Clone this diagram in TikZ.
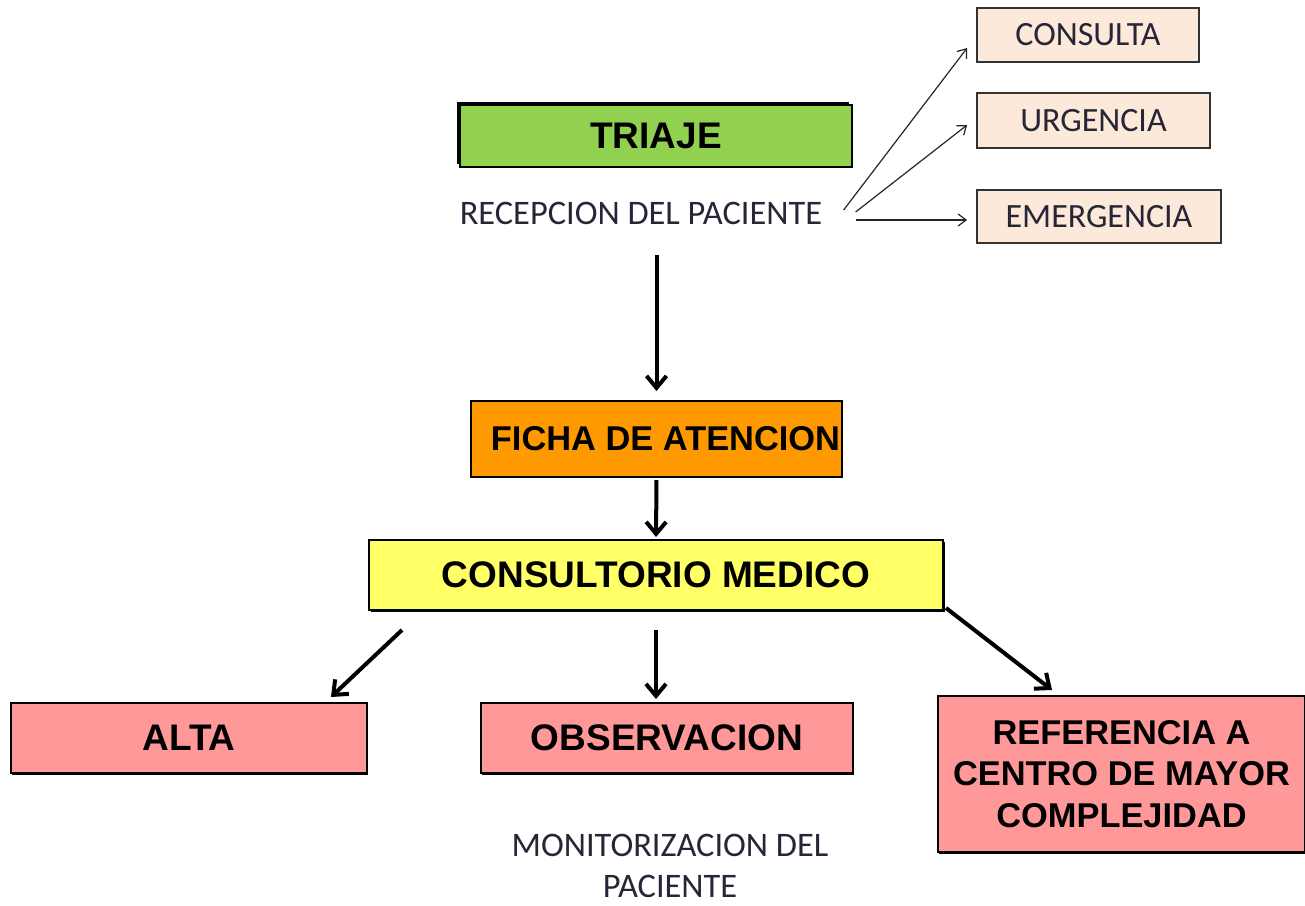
\documentclass[tikz,border=0pt]{standalone}
\usepackage{fontspec}
\setmainfont{Liberation Sans}
\newfontfamily\calibri{Carlito}
\usepackage{xcolor}
\usetikzlibrary{arrows.meta}
\usetikzlibrary{shadows}
\definecolor{triajegreen}{HTML}{92D050}
\definecolor{fichaorange}{HTML}{FF9900}
\definecolor{consyellow}{HTML}{FFFF66}
\definecolor{salida}{HTML}{FF9999}
\definecolor{peach}{HTML}{FDE9DA}
\definecolor{darktext}{HTML}{262638}

\begin{document}
\begin{tikzpicture}[x=0.5pt,y=-0.5pt,
    main box/.style={rectangle, draw=black, line width=1pt, inner sep=0pt, align=center,
        font=\fontsize{18.5}{20.75}\selectfont\bfseries},
    tipo box/.style={rectangle, draw=black!80, line width=0.9pt, fill=peach, inner sep=0pt,
        text=darktext, font=\calibri\fontsize{17}{20}\selectfont},
    plain text/.style={inner sep=0pt, text=darktext, align=center,
        font=\calibri\fontsize{17.2}{20.5}\selectfont},
    big arrow/.style={-{Straight Barb[length=6pt,width=10pt]}, line width=2pt},
    thin arrow/.style={-{Straight Barb[length=4pt,width=6pt]}, line width=0.6pt, draw=black!85}]
    \useasboundingbox (0,0) rectangle (1305,905);
    % Nodes
    \node [main box, fill=triajegreen, minimum width=196pt, minimum height=31pt,
        drop shadow={shadow xshift=-1.5pt, shadow yshift=1.5pt, fill=black, opacity=1}] (triaje) at (656,136) {TRIAJE};
    \node [plain text, text height=12pt, text depth=4pt] (rec) at (641,216) {RECEPCION DEL PACIENTE};
    \node [tipo box, minimum width=111pt, minimum height=27pt] (consulta) at (1088,35) {CONSULTA};
    \node [tipo box, minimum width=116.5pt, minimum height=27.5pt] (urgencia) at (1093.5,120.5) {URGENCIA};
    \node [tipo box, minimum width=122pt, minimum height=26.5pt] (emergencia) at (1099,216.5) {EMERGENCIA};
    \node [main box, fill=fichaorange, minimum width=185.5pt, minimum height=38pt,
        font=\fontsize{17.2}{20}\selectfont\bfseries] (ficha) at (656.5,439) {\hspace{9pt}FICHA DE ATENCION};
    \node [main box, fill=consyellow, minimum width=287pt, minimum height=35pt,
        drop shadow={shadow xshift=1pt, shadow yshift=-1pt, fill=black, opacity=1}] (cons) at (656,575) {CONSULTORIO MEDICO};
    \node [main box, fill=salida, minimum width=178pt, minimum height=35pt,
        drop shadow={shadow xshift=0.5pt, shadow yshift=-0.8pt, fill=black, opacity=1}] (alta) at (189,738) {ALTA};
    \node [main box, fill=salida, minimum width=186pt, minimum height=35pt,
        drop shadow={shadow xshift=0.5pt, shadow yshift=-0.8pt, fill=black, opacity=1}] (obs) at (667,738) {OBSERVACION};
    \node [main box, fill=salida, minimum width=183.5pt, minimum height=78pt,
        font=\fontsize{17.2}{20.9}\selectfont\bfseries,
        drop shadow={shadow xshift=0.5pt, shadow yshift=-0.8pt, fill=black, opacity=1}] (ref) at (1121.5,774)
        {REFERENCIA A\\CENTRO DE MAYOR\\COMPLEJIDAD};
    \node [plain text] (mon) at (670,866) {MONITORIZACION DEL\\PACIENTE};

    % Arrows
    \draw [thin arrow] ([shift={(21,-6)}]rec.east) -- ([shift={(-9,13)}]consulta.west);
    \draw [thin arrow] ([shift={(33,-4)}]rec.east) -- ([shift={(-9,4.5)}]urgencia.west);
    \draw [thin arrow] ([shift={(33,4)}]rec.east) -- ([shift={(-9,3.5)}]emergencia.west);

    \draw [big arrow, shorten <=11.5pt, shorten >=4.5pt] (rec.south -| ficha.north) -- (ficha.north);
    \draw [big arrow, shorten <=1pt, shorten >=1pt] (ficha.south) -- (cons.north);
    \draw [big arrow, shorten <=9.5pt, shorten >=1.5pt] (cons.south) -- (cons.south |- obs.north);
    \draw [big arrow] ([shift={(34,19)}]cons.south west) -- ([shift={(-37,-5)}]alta.north east);
    \draw [big arrow] ([shift={(2,-3)}]cons.south east) -- ([shift={(115,-5)}]ref.north west);
\end{tikzpicture}
\end{document}
